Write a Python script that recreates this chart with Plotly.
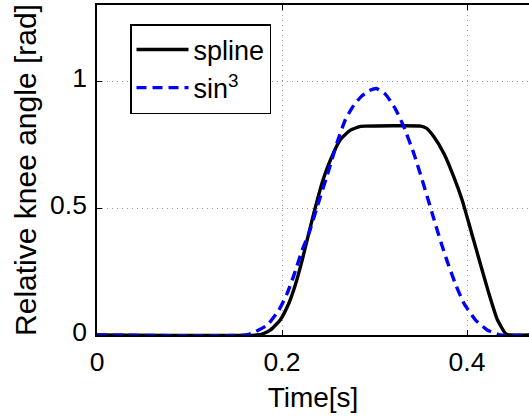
import plotly.graph_objects as go

# Data
spline_t = [0.0, 0.173, 0.180, 0.1876, 0.198, 0.2074, 0.2146, 0.2218, 0.2272, 0.2344,
            0.2434, 0.2524, 0.2632, 0.274, 0.2849, 0.290, 0.350, 0.356, 0.364, 0.375,
            0.3857, 0.3948, 0.402, 0.4074, 0.4146, 0.4236, 0.4326, 0.4416, 0.446, 0.467]
spline_y = [0.0, 0.0, 0.006, 0.020, 0.059, 0.125, 0.200, 0.295, 0.375, 0.480,
            0.600, 0.690, 0.770, 0.807, 0.822, 0.823, 0.823, 0.815, 0.782, 0.715,
            0.623, 0.531, 0.440, 0.370, 0.278, 0.164, 0.062, 0.006, 0.0, 0.0]

sin3_t = [0.0, 0.160, 0.1695, 0.184, 0.1966, 0.2056, 0.2128, 0.2218, 0.229, 0.238,
          0.2506, 0.2597, 0.2687, 0.2776, 0.2858, 0.2938, 0.302, 0.3119, 0.3227,
          0.3317, 0.3425, 0.3516, 0.357, 0.3624, 0.3678, 0.3732, 0.3786, 0.3876,
          0.3966, 0.4092, 0.4218, 0.436, 0.467]
sin3_y = [0.0, 0.0, 0.010, 0.039, 0.098, 0.164, 0.235, 0.335, 0.400, 0.505,
          0.650, 0.760, 0.850, 0.905, 0.940, 0.962, 0.971, 0.948, 0.890,
          0.820, 0.715, 0.610, 0.545, 0.479, 0.413, 0.350, 0.290, 0.200,
          0.125, 0.059, 0.020, 0.0, 0.0]

x_ticks = [0, 0.2, 0.4]
x_tick_labels = ["0", "0.2", "0.4"]
y_ticks = [0, 0.5, 1]
y_tick_labels = ["0", "0.5", "1"]

FONT = "Liberation Sans"

fig = go.Figure()
fig.add_trace(go.Scatter(x=spline_t, y=spline_y, mode="lines", name="spline",
                         line=dict(color="black", width=3.4, shape="spline", smoothing=0.5)))
fig.add_trace(go.Scatter(x=sin3_t, y=sin3_y, mode="lines", name="sin<sup>3</sup>",
                         line=dict(color="#0000ff", width=3.4, dash="10px,6px",
                                   shape="spline", smoothing=0.5)))

fig.update_layout(
    width=529, height=417,
    margin=dict(l=97, r=0, t=5, b=82),
    paper_bgcolor="white", plot_bgcolor="white",
    font=dict(family=FONT, size=27, color="black"),
    showlegend=True,
    legend=dict(x=0.0764, y=0.9424, xanchor="left", yanchor="top",
                bgcolor="white", bordercolor="black", borderwidth=1.5,
                font=dict(family=FONT, size=27), tracegroupgap=0, itemwidth=52),
    xaxis=dict(range=[0, 0.467], tickvals=x_ticks, ticktext=x_tick_labels,
               showline=True, linecolor="black", linewidth=1.5, mirror="ticks",
               ticks="inside", ticklen=5, tickcolor="black",
               showgrid=True, gridcolor="#999999", griddash="1px,4px", gridwidth=1,
               zeroline=False, automargin=False,
               title=dict(text="Time[s]", standoff=12, font=dict(family=FONT, size=28)),
               ticklabelstandoff=2, tickfont=dict(family=FONT, size=26.5)),
    yaxis=dict(range=[0, 1.3], tickvals=y_ticks, ticktext=y_tick_labels,
               showline=True, linecolor="black", linewidth=1.5, mirror=False,
               ticks="inside", ticklen=5, tickcolor="black",
               showgrid=True, gridcolor="#999999", griddash="1px,4px", gridwidth=1,
               zeroline=False, automargin=False,
               title=dict(text="Relative knee angle [rad]", standoff=5,
                          font=dict(family=FONT, size=30)),
               ticklabelstandoff=3, ticklabelshift=-3, tickfont=dict(family=FONT, size=26.5)),
)

fig.write_html("out.html", config={"displayModeBar": False},
               post_script="document.body.style.margin='0';")
